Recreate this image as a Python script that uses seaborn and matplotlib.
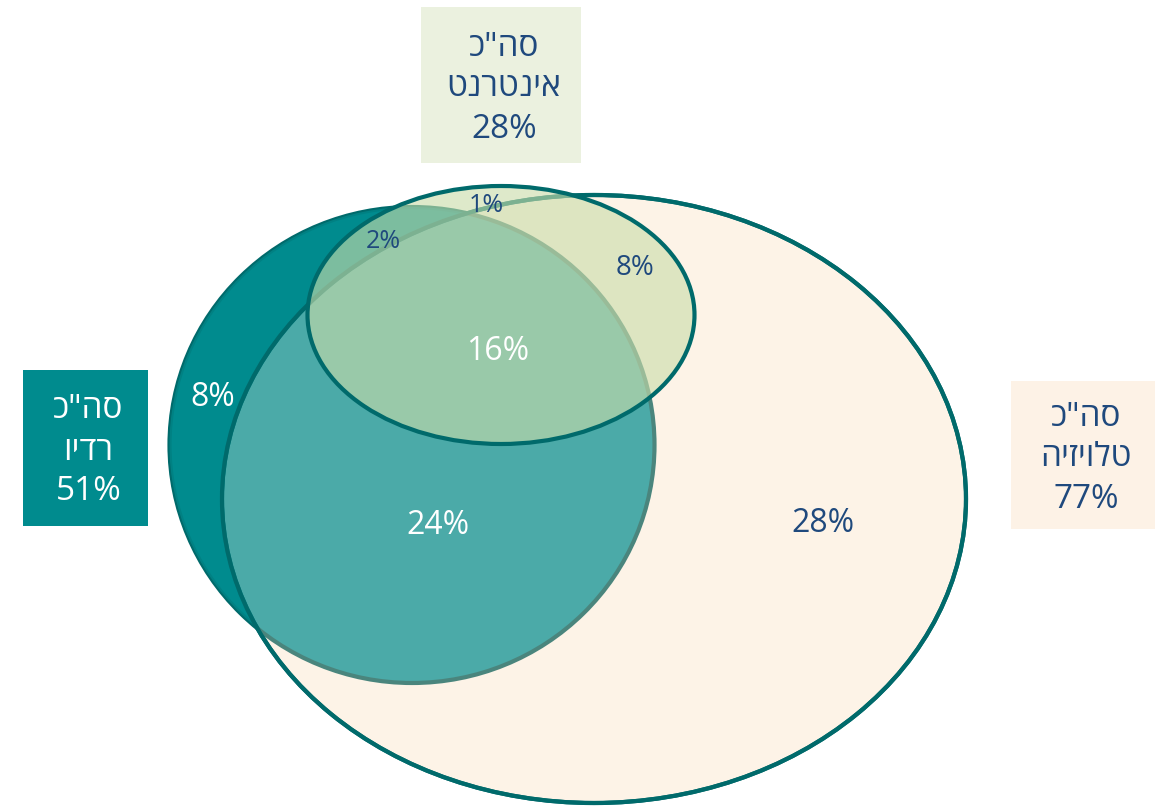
import matplotlib
matplotlib.use("Agg")
import matplotlib.pyplot as plt
from matplotlib.patches import Ellipse, Rectangle
import seaborn as sns

# --- data -------------------------------------------------------------
set_names = ["רדיו", "אינטרנט", "טלויזיה"]        # radio, internet, TV
set_totals = [51, 28, 77]
total_word = "סה\"כ"

region_keys = ["radio_only", "radio_tv", "all_three", "radio_net",
               "net_only", "net_tv", "tv_only"]
region_values = [8, 24, 16, 2, 1, 8, 28]

# --- style ------------------------------------------------------------
sns.set_theme(style="white")
plt.rcParams["font.family"] = ["Open Sans", "DejaVu Sans"]

TEAL = "#008B8E"
EDGE = "#006A6B"
CREAM = "#FDF3E7"
NET = "#CADDAA"
NAVY = "#1F497D"

# ellipse geometry in pixel space: centre x, centre y, width, height
geom = {
    "radio": (412, 445, 485, 476),
    "tv": (594, 499, 744, 608),
    "net": (501, 315, 387, 258),
}

label_pos = {
    "radio_only": (213, 398, 23, "white"),
    "radio_tv": (438, 525, 23, "white"),
    "all_three": (498, 351, 23, "white"),
    "radio_net": (383, 241, 18, NAVY),
    "net_only": (486, 205, 18, NAVY),
    "net_tv": (635, 268, 20, NAVY),
    "tv_only": (823, 523, 23, NAVY),
}

boxes = {  # x0, y0, x1, y1, face, text colour
    "radio": (23, 370, 148, 526, TEAL, "white"),
    "net": (421, 7, 581, 163, "#EBF1DF", NAVY),
    "tv": (1011, 381, 1155, 529, "#FDF2E6", NAVY),
}


def visual(s):
    """Hebrew is laid out right-to-left; matplotlib draws glyphs left-to-right."""
    return s[::-1] if any("\u0590" <= ch <= "\u05FF" for ch in s) else s


fig = plt.figure(figsize=(11.65, 8.08), dpi=100)
ax = fig.add_axes([0, 0, 1, 1])
ax.set_xlim(0, 1165)
ax.set_ylim(808, 0)
ax.axis("off")


def ell(key, **kw):
    cx, cy, w, h = geom[key]
    p = Ellipse((cx, cy), w, h, **kw)
    ax.add_patch(p)
    return p


lw = 3.0
# radio (solid), then television over it, then radio again translucent
ell("radio", facecolor=TEAL, edgecolor=EDGE, lw=lw, zorder=1)
tv = ell("tv", facecolor=CREAM, edgecolor=EDGE, lw=lw, zorder=2)
ell("radio", facecolor=TEAL, edgecolor="none", alpha=0.70, zorder=3)
# the radio outline seen through the television disc is muted
muted = ell("radio", facecolor="none", edgecolor="#4A857D", lw=lw, zorder=3)
clip = Ellipse(tv.center, tv.width, tv.height, transform=ax.transData)
muted.set_clip_path(clip)
# television outline stays visible across the radio overlap
ell("tv", facecolor="none", edgecolor=EDGE, lw=lw, zorder=3.5)
# internet: translucent fill with a solid outline
ell("net", facecolor=NET, edgecolor="none", alpha=0.62, zorder=4)
ell("net", facecolor="none", edgecolor=EDGE, lw=lw, zorder=5)

for key, val in zip(region_keys, region_values):
    x, y, fs, col = label_pos[key]
    ax.text(x, y, f"{val}%", ha="center", va="center", fontsize=fs,
            color=col, zorder=6)

for key, name, total in zip(["radio", "net", "tv"], set_names, set_totals):
    x0, y0, x1, y1, face, tcol = boxes[key]
    ax.add_patch(Rectangle((x0, y0), x1 - x0, y1 - y0, facecolor=face,
                           edgecolor="none", zorder=6))
    txt = "\n".join([visual(total_word), visual(name), f"{total}%"])
    ax.text((x0 + x1) / 2 + 3, (y0 + y1) / 2 + 3, txt, ha="center",
            va="center", fontsize=24, color=tcol, linespacing=1.32, zorder=7)

fig.savefig("out.png", dpi=100)
